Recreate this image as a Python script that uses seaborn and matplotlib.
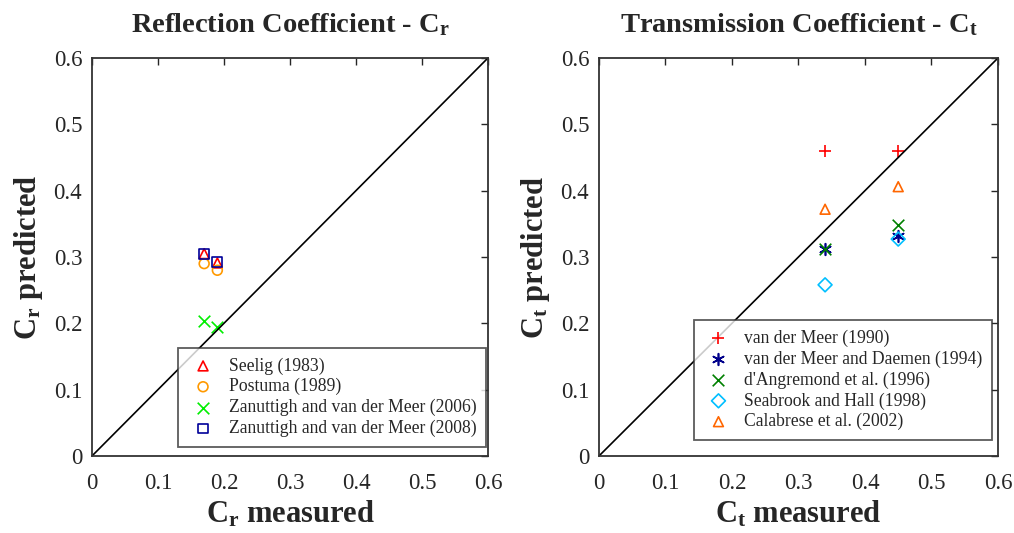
import matplotlib
matplotlib.use("Agg")
import matplotlib.pyplot as plt
import seaborn as sns

# Reflection coefficient data (measured, predicted)
cr_measured = [0.17, 0.19]
cr_seelig = [0.305, 0.291]
cr_postuma = [0.290, 0.280]
cr_zan2006 = [0.204, 0.195]
cr_zan2008 = [0.304, 0.293]

# Transmission coefficient data
ct_measured = [0.34, 0.45]
ct_vdm1990 = [0.460, 0.460]
ct_vdm1994 = [0.312, 0.332]
ct_dang1996 = [0.312, 0.348]
ct_seabrook1998 = [0.258, 0.327]
ct_calabrese2002 = [0.372, 0.406]

ticks = [0, 0.1, 0.2, 0.3, 0.4, 0.5, 0.6]
tick_labels = ["0", "0.1", "0.2", "0.3", "0.4", "0.5", "0.6"]


def draw_series(ax, x, y, label, marker, color, filled_marker=True):
    if filled_marker:
        sns.scatterplot(x=x, y=y, ax=ax, label=label, marker=marker, s=50,
                        facecolor="none", edgecolor=color, linewidth=1.2)
    else:
        sns.scatterplot(x=x, y=y, ax=ax, label=label, marker=marker, s=70,
                        color=color, linewidth=1.2)


def style_axes(ax, title, xlabel, ylabel):
    ax.plot([0, 0.6], [0, 0.6], color="black", linewidth=1.2, zorder=1)
    ax.set_xlim(0, 0.6)
    ax.set_ylim(0, 0.6)
    ax.set_xticks(ticks, tick_labels)
    ax.set_yticks(ticks, tick_labels)
    ax.tick_params(direction="in", top=True, right=True, length=5,
                   width=1, labelsize=16.5)
    ax.tick_params(axis="x", pad=12)
    ax.tick_params(axis="y", pad=7)
    for sp in ax.spines.values():
        sp.set_color("#333333")
        sp.set_linewidth(1.3)
    ax.set_title(title, fontsize=20.5, fontweight="bold", pad=19)
    ax.set_xlabel(xlabel, fontsize=22, fontweight="bold", labelpad=4)
    ax.set_ylabel(ylabel, fontsize=22, fontweight="bold", labelpad=6)


def add_legend(ax, anchor):
    leg = ax.legend(loc="lower right", bbox_to_anchor=anchor, fontsize=12.7,
                    frameon=True, fancybox=False, edgecolor="#333333",
                    borderpad=0.55, handlelength=1.7, handletextpad=0.6,
                    borderaxespad=0.0, labelspacing=0.2)
    leg.get_frame().set_linewidth(1.3)


sns.set_style("white")
plt.rcParams["font.family"] = ["Liberation Serif", "DejaVu Serif"]
plt.rcParams["mathtext.fontset"] = "custom"
plt.rcParams["mathtext.rm"] = "Liberation Serif"
plt.rcParams["mathtext.it"] = "Liberation Serif"
plt.rcParams["mathtext.bf"] = "Liberation Serif:bold"

fig = plt.figure(figsize=(10.14, 5.33), dpi=100)
ax1 = fig.add_axes([0.0907, 0.1445, 0.3905, 0.7467])
ax2 = fig.add_axes([0.5907, 0.1445, 0.3935, 0.7467])

draw_series(ax1, cr_measured, cr_seelig, "Seelig (1983)", "^", "#ff0000")
draw_series(ax1, cr_measured, cr_postuma, "Postuma (1989)", "o", "#ff9900")
draw_series(ax1, cr_measured, cr_zan2006, "Zanuttigh and van der Meer (2006)",
            "x", "#00ee00", filled_marker=False)
draw_series(ax1, cr_measured, cr_zan2008, "Zanuttigh and van der Meer (2008)",
            "s", "#000099")
style_axes(ax1, r"Reflection Coefficient - $\mathbf{C_r}$",
           r"$\mathbf{C_r}$ measured", r"$\mathbf{C_r}$ predicted")
add_legend(ax1, (0.995, 0.023))

draw_series(ax2, ct_measured, ct_vdm1990, "van der Meer (1990)", "+",
            "#ff0000", filled_marker=False)
draw_series(ax2, ct_measured, ct_vdm1994, "van der Meer and Daemen (1994)",
            (6, 2, 0), "#00008b", filled_marker=False)
draw_series(ax2, ct_measured, ct_dang1996, "d'Angremond et al. (1996)", "x",
            "#008000", filled_marker=False)
draw_series(ax2, ct_measured, ct_seabrook1998, "Seabrook and Hall (1998)",
            "D", "#00bfff")
draw_series(ax2, ct_measured, ct_calabrese2002, "Calabrese et al. (2002)",
            "^", "#ff6600")
style_axes(ax2, r"Transmission Coefficient - $\mathbf{C_t}$",
           r"$\mathbf{C_t}$ measured", r"$\mathbf{C_t}$ predicted")
add_legend(ax2, (0.985, 0.040))

fig.savefig("out.png", dpi=100)
